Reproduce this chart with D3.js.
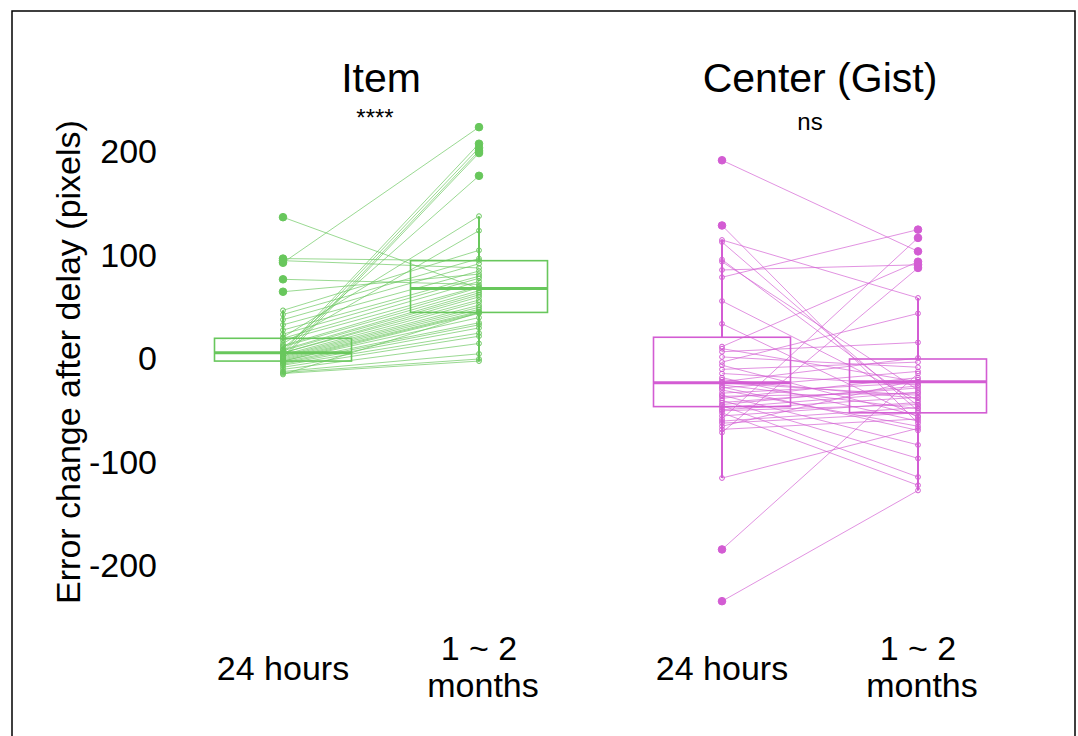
<!DOCTYPE html>
<html>
<head>
<meta charset="utf-8">
<script src="https://cdn.jsdelivr.net/npm/d3@7"></script>
<style>
  body { margin: 0; background: #fff; }
  svg { font-family: "Liberation Sans", Arial, sans-serif; }
</style>
</head>
<body>
<div id="app"></div>
<script>
// data (pixels)
const panels = ['Item', 'Center (Gist)']
const signif = ['****', 'ns']
const times = ['24 hours', '1 ~ 2 months']
const colors = ['#68c75c', '#d35cd3']

// paired subjects, same order in both arrays
const itemDay   = [137, 97, 93, 95, 77, 65, 47, 43, 38, 33, 28, 24, 21, 20, 18, 15, 13, 12, 10, 9, 8, 7, 6, 6, 5, 4, 3, 2, 2, 1, 0, 0, -1, -2, -2, -3, -4, -5, -6, -8, -10, -12, -13, -14, -15]
const itemMonth = [68, 95, 224, 88, 72, 82, 105, 97, 92, 85, 80, 78, 138, 75, 70, 124, 69, 66, 177, 64, 62, 208, 60, 57, 204, 55, 52, 50, 201, 48, 46, 199, 45, 44, 40, 35, 33, 30, 25, 22, 15, 5, 0, -2, 45]

const centerDay   = [192, 129, 115, 113, 96, 94, 86, 79, 56, 34, 12, 10, 7, 2, -3, -6, -10, -14, -18, -22, -23, -25, -28, -30, -33, -35, -38, -40, -42, -45, -47, -49, -52, -55, -58, -62, -65, -68, -71, -44, -36, -27, -20, -50, -60, -115, -184, -234]
const centerMonth = [104, -62, 59, -50, -45, -30, 91, 125, -40, -56, 94, -22, 16, -8, 44, -55, -3, -25, -60, 1, -35, -48, -12, -65, -23, -83, -18, -96, -28, -114, -32, -37, -122, -42, 117, -52, -20, -58, 88, -26, -33, -69, -38, -44, -47, -67, -14, -127]

// box stats per panel / time: [whiskerLow, q1, median, q3, whiskerHigh]
const itemBoxes   = [[-15, -2, 6, 20, 47], [-2, 45, 68, 95, 138]]
const centerBoxes = [[-115, -46, -23, 21, 115], [-127, -52, -22, 0, 59]]

const yTicks = [-200, -100, 0, 100, 200]

const series = [
  {day: itemDay, month: itemMonth, boxes: itemBoxes},
  {day: centerDay, month: centerMonth, boxes: centerBoxes}
]

const W = 1078, H = 736
const svg = d3.select('#app').append('svg').attr('width', W).attr('height', H)

// frame
svg.append('path').attr('d', `M12,${H+2}V11H1075V${H+2}`)
  .attr('fill', 'none').attr('stroke', '#000').attr('stroke-width', 1.5)

const y = d3.scaleLinear().domain([-200, 200]).range([566, 152])
const panelX = d3.scalePoint().domain(panels).range([381, 820])
const timeX = d3.scalePoint().domain(times).range([-98, 98])
const boxW = 137

// y axis, labels only (plain hyphen for negatives)
const yAxis = svg.append('g').attr('transform', 'translate(160,0)')
  .call(d3.axisLeft(y).tickValues(yTicks).tickSize(0).tickPadding(3).tickFormat(d => String(d)))
yAxis.select('.domain').remove()
yAxis.selectAll('text').attr('font-size', 34).attr('fill', '#000')
  .style('font-family', '"Liberation Sans", Arial, sans-serif')

svg.append('text')
  .attr('transform', 'translate(80,362) rotate(-90)')
  .attr('text-anchor', 'middle').attr('font-size', 34)
  .text('Error change after delay (pixels)')

panels.forEach((p, pi) => {
  const s = series[pi]
  const col = colors[pi]
  const g = svg.append('g').attr('transform', `translate(${panelX(p)},0)`)
  const x0 = timeX(times[0]), x1 = timeX(times[1])

  g.append('text').attr('x', 0).attr('y', 92).attr('text-anchor', 'middle')
    .attr('font-size', 41).text(p)
  g.append('text').attr('x', pi === 0 ? -6 : -10).attr('y', pi === 0 ? 126 : 130)
    .attr('text-anchor', 'middle').attr('font-size', 24).text(signif[pi])

  // paired lines
  g.selectAll('line.pair').data(d3.range(s.day.length)).enter().append('line')
    .attr('class', 'pair')
    .attr('x1', x0).attr('x2', x1)
    .attr('y1', i => y(s.day[i])).attr('y2', i => y(s.month[i]))
    .attr('stroke', col).attr('stroke-width', 0.9).attr('stroke-opacity', 0.75)

  // boxes + whiskers
  s.boxes.forEach((b, ti) => {
    const cx = timeX(times[ti])
    g.append('line').attr('x1', cx).attr('x2', cx).attr('y1', y(b[0])).attr('y2', y(b[1]))
      .attr('stroke', col).attr('stroke-width', 2)
    g.append('line').attr('x1', cx).attr('x2', cx).attr('y1', y(b[3])).attr('y2', y(b[4]))
      .attr('stroke', col).attr('stroke-width', 2)
    g.append('rect').attr('x', cx - boxW / 2).attr('width', boxW)
      .attr('y', y(b[3])).attr('height', y(b[1]) - y(b[3]))
      .attr('fill', 'none').attr('stroke', col).attr('stroke-width', 1.6)
    g.append('line').attr('x1', cx - boxW / 2).attr('x2', cx + boxW / 2)
      .attr('y1', y(b[2])).attr('y2', y(b[2]))
      .attr('stroke', col).attr('stroke-width', 3)
  })

  // points: filled when outside the whiskers
  const pts = []
  s.day.forEach(v => pts.push({t: 0, v}))
  s.month.forEach(v => pts.push({t: 1, v}))
  const isOut = d => d.v > s.boxes[d.t][4] || d.v < s.boxes[d.t][0]
  g.selectAll('circle').data(pts).enter().append('circle')
    .attr('cx', d => timeX(times[d.t]))
    .attr('cy', d => y(d.v))
    .attr('r', d => isOut(d) ? 3.8 : 2.4)
    .attr('fill', d => isOut(d) ? col : '#fff')
    .attr('fill-opacity', d => isOut(d) ? 1 : 0)
    .attr('stroke', col).attr('stroke-width', 1)

  // category labels
  g.append('text').attr('x', x0).attr('y', 680).attr('text-anchor', 'middle')
    .attr('font-size', 34).text(times[0])
  g.append('text').attr('x', x1).attr('y', 660).attr('text-anchor', 'middle')
    .attr('font-size', 34).text('1 ~ 2')
  g.append('text').attr('x', x1 + 4).attr('y', 697).attr('text-anchor', 'middle')
    .attr('font-size', 34).text('months')
})
</script>
</body>
</html>
